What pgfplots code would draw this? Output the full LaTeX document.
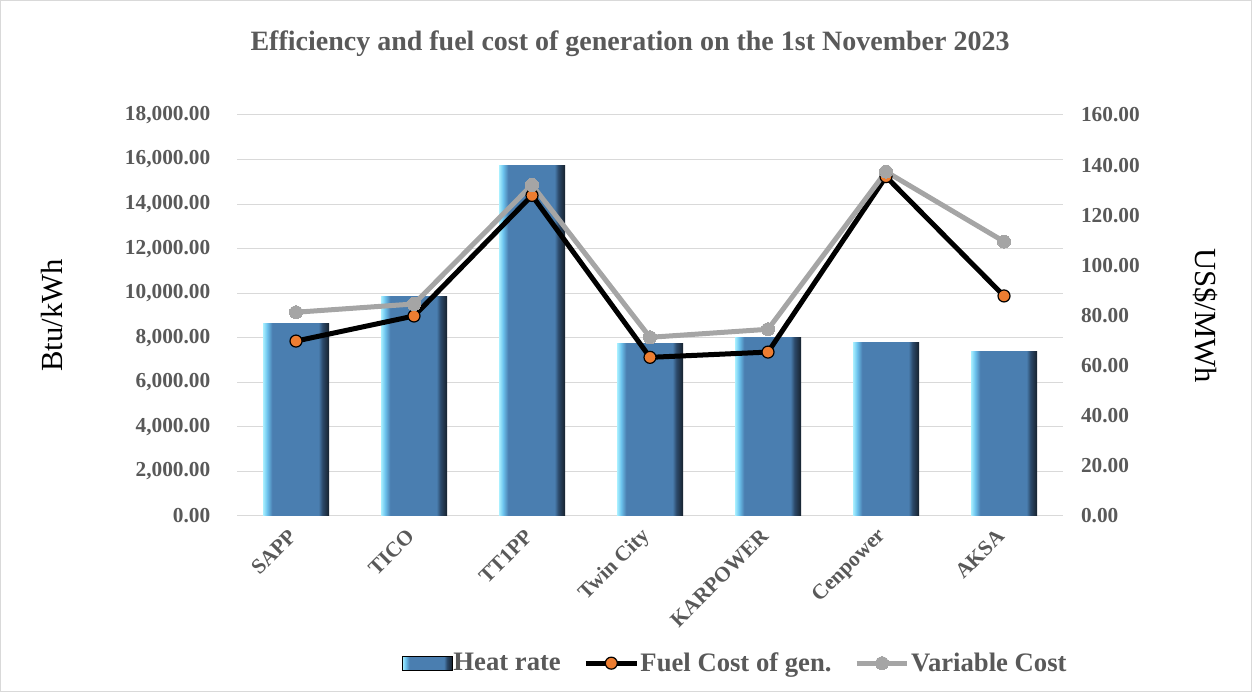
\documentclass[border=0pt]{standalone}
\usepackage{pgfplots}
\usepackage{pgfplotstable}
\pgfplotsset{compat=1.18}
\usepackage{fontspec}
\setmainfont{Liberation Serif}
\definecolor{txt}{HTML}{595959}
\definecolor{gridc}{HTML}{D9D9D9}
\definecolor{orangem}{HTML}{ED7D31}
\definecolor{greyl}{HTML}{A5A5A5}
\definecolor{bla}{HTML}{A9F0FF}
\definecolor{blb}{HTML}{6DC4EE}
\definecolor{bmain}{HTML}{4A7EB0}
\definecolor{bdka}{HTML}{2C4A6A}
\definecolor{bdkb}{HTML}{17222E}
\pgfdeclarehorizontalshading{barshade}{100bp}{color(0bp)=(bla); color(25bp)=(bla); color(28bp)=(blb); color(32bp)=(bmain); color(67bp)=(bmain); color(70bp)=(bdka); color(75bp)=(bdkb); color(100bp)=(bdkb)}
\pgfplotsset{
  longline/.style={legend image code/.code={\draw[##1, mark repeat=2, mark phase=2] plot coordinates {(0pt,0pt) (19pt,0pt) (38pt,0pt)};}},
  hrbar/.style={ybar, bar width=49.5pt, draw=none, shade, shading=barshade, forget plot},
}
\pgfplotstableread{
x fuel var
0 69.8 81.3
1 79.8 84.6
2 127.9 132.1
3 63.3 71.3
4 65.4 74.5
5 135.4 137.4
6 87.8 109.5
}\data
\begin{document}
\begin{tikzpicture}
\draw[gridc, line width=0.75pt] (0.375pt,0.375pt) rectangle (938.625pt,518.625pt);
\node[font=\bfseries\fontsize{21}{24}\selectfont, text=txt] at (472.5pt,486pt) {Efficiency and fuel cost of generation on the 1st November 2023};
\begin{axis}[
  at={(177.75pt,132pt)}, anchor=south west,
  scale only axis, width=619.5pt, height=300.75pt,
  xmin=-0.5, xmax=6.5, ymin=0, ymax=18000,
  ytick={0,2000,...,18000}, scaled y ticks=false,
  ymajorgrids, grid style={gridc, line width=0.75pt},
  axis y line*=left, y axis line style={draw=none},
  axis x line*=bottom, x axis line style={gridc, line width=0.75pt},
  major tick length=0pt,
  xtick={0,...,6},
  xticklabels={SAPP,TICO,TT1PP,Twin City,KARPOWER,Cenpower,AKSA},
  xticklabel style={rotate=45, anchor=east, font=\bfseries\fontsize{16}{18}\selectfont, text=txt, inner sep=1pt, xshift=-9.7pt, yshift=-7.2pt},
  yticklabel style={font=\bfseries\fontsize{16}{18}\selectfont, text=txt, xshift=-16.5pt},
  /pgf/number format/.cd, fixed, fixed zerofill, precision=2, 1000 sep={,}, assume math mode=true,
  /pgfplots/.cd,
  ylabel={Btu/kWh},
  ylabel style={at={(rel axis cs:-0.224,0.5)}, anchor=center, font=\fontsize{23}{26}\selectfont},
]
\addplot[hrbar] coordinates {(0,8620)};
\addplot[hrbar] coordinates {(1,9840)};
\addplot[hrbar] coordinates {(2,15750)};
\addplot[hrbar] coordinates {(3,7750)};
\addplot[hrbar] coordinates {(4,8020)};
\addplot[hrbar] coordinates {(5,7780)};
\addplot[hrbar] coordinates {(6,7375)};
\end{axis}
\begin{axis}[
  at={(177.75pt,132pt)}, anchor=south west,
  scale only axis, width=619.5pt, height=300.75pt,
  xmin=-0.5, xmax=6.5, ymin=0, ymax=160,
  ytick={0,20,...,160},
  axis y line*=right, y axis line style={draw=none},
  axis x line=none,
  major tick length=0pt,
  yticklabel style={font=\bfseries\fontsize{16}{18}\selectfont, text=txt, xshift=10pt},
  /pgf/number format/.cd, fixed, fixed zerofill, precision=2, 1000 sep={,}, assume math mode=true,
  /pgfplots/.cd,
  ylabel={US\$/MWh},
  ylabel style={at={(rel axis cs:1.172,0.5)}, anchor=center, rotate=180, font=\fontsize{23}{26}\selectfont},
  legend columns=3,
  legend style={at={(0.603,-0.367)}, anchor=center, draw=none, fill=none,
    font=\bfseries\fontsize{20}{23}\selectfont, text=txt,
    /tikz/every even column/.append style={column sep=16pt},
    nodes={inner sep=1pt}},
]
\addlegendimage{legend image code/.code={\shade[shading=barshade] (0pt,-5pt) rectangle (37pt,5pt);}}
\addlegendentry{Heat rate}
\addplot[black, line width=3.75pt, mark=*, mark size=4.5pt, mark options={fill=orangem, draw=black, line width=0.9pt}, longline]
  table[x=x,y=fuel]{\data};
\addlegendentry{Fuel Cost of gen.}
\addplot[greyl, line width=3.75pt, mark=*, mark size=4.9pt, mark options={fill=greyl, draw=greyl, line width=0pt}, longline]
  table[x=x,y=var]{\data};
\addlegendentry{Variable Cost}
\end{axis}
\end{tikzpicture}
\end{document}
